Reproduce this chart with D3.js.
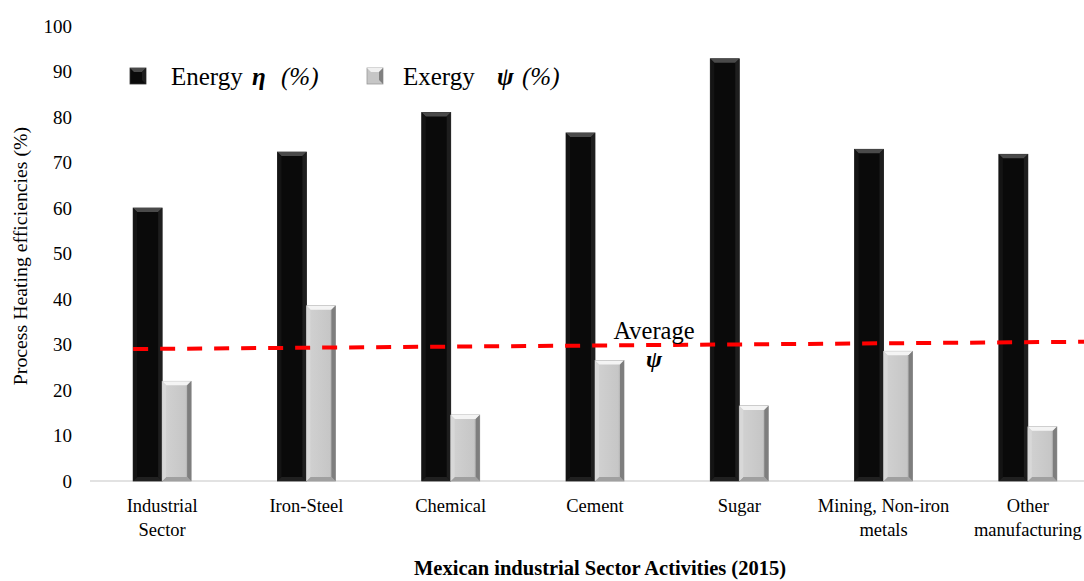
<!DOCTYPE html>
<html>
<head>
<meta charset="utf-8">
<script src="https://cdn.jsdelivr.net/npm/d3@7"></script>
<style>
  html, body { margin: 0; padding: 0; background: #fff; }
  svg { display: block; font-family: "Liberation Serif", "DejaVu Serif", serif; }
</style>
</head>
<body>
<svg id="chart" width="1084" height="581"></svg>
<script>
// Process heating efficiencies by Mexican industrial sector (2015)
const categories = [
  ["Industrial", "Sector"],
  ["Iron-Steel"],
  ["Chemical"],
  ["Cement"],
  ["Sugar"],
  ["Mining, Non-iron", "metals"],
  ["Other", "manufacturing"]
];
const energyEta = [60, 72.3, 81, 76.5, 92.8, 72.9, 71.8];
const exergyPsi = [21.9, 38.5, 14.5, 26.5, 16.5, 28.5, 11.9];
// dashed "Average ψ" reference line: value at its left and right ends
const averagePsi = [29.0, 30.6];
const yTicks = [0, 10, 20, 30, 40, 50, 60, 70, 80, 90, 100];

const svg = d3.select("#chart");
const margin = { left: 90, right: -16, top: 26, bottom: 100 };
const W = 1084, H = 581;

const x = d3.scaleBand()
  .domain(d3.range(categories.length))
  .range([margin.left, W - margin.right])
  .padding(0);
const y = d3.scaleLinear().domain([0, 100]).range([H - margin.bottom, margin.top]);
const barW = 29;

const defs = svg.append("defs");
const gBlack = defs.append("linearGradient").attr("id", "gBlack");
gBlack.append("stop").attr("offset", "0%").attr("stop-color", "#1a1a1a");
gBlack.append("stop").attr("offset", "15%").attr("stop-color", "#0a0a0a");
gBlack.append("stop").attr("offset", "85%").attr("stop-color", "#0a0a0a");
gBlack.append("stop").attr("offset", "100%").attr("stop-color", "#1c1c1c");
const gGrey = defs.append("linearGradient").attr("id", "gGrey");
gGrey.append("stop").attr("offset", "0%").attr("stop-color", "#d2d2d2");
gGrey.append("stop").attr("offset", "80%").attr("stop-color", "#c6c6c6");
gGrey.append("stop").attr("offset", "100%").attr("stop-color", "#8a8a8a");

// baseline
svg.append("line")
  .attr("x1", margin.left).attr("x2", W)
  .attr("y1", y(0)).attr("y2", y(0))
  .attr("stroke", "#d9d9d9").attr("stroke-width", 1.5);

// y axis tick labels
const yAxis = d3.axisLeft(y).tickValues(yTicks).tickSize(0).tickPadding(0);
const yg = svg.append("g").attr("transform", "translate(72,0)").call(yAxis);
yg.select(".domain").remove();
yg.selectAll("text")
  .attr("font-family", "Liberation Serif, serif")
  .attr("font-size", 19).attr("fill", "#000");

// bevelled bar drawing
function bevelBar(g, x0, v, dark) {
  const top = y(v), bot = y(0), w = barW, b = 4;
  g.append("rect").attr("x", x0).attr("y", top).attr("width", w).attr("height", bot - top)
    .attr("fill", dark ? "url(#gBlack)" : "url(#gGrey)")
    .attr("stroke", dark ? "#2a2a2a" : "#9a9a9a").attr("stroke-width", 0.8);
  // top bevel
  g.append("polygon")
    .attr("points", [[x0, top], [x0 + w, top], [x0 + w - b, top + b], [x0 + b, top + b]].join(" "))
    .attr("fill", dark ? "#4a4a4a" : "#f4f4f4");
  // right bevel
  g.append("polygon")
    .attr("points", [[x0 + w, top], [x0 + w, bot], [x0 + w - b, bot - b], [x0 + w - b, top + b]].join(" "))
    .attr("fill", dark ? "#1e1e1e" : "#7e7e7e");
  // bottom bevel
  g.append("polygon")
    .attr("points", [[x0, bot], [x0 + w, bot], [x0 + w - b, bot - b], [x0 + b, bot - b]].join(" "))
    .attr("fill", dark ? "#202020" : "#a0a0a0");
  // left bevel
  g.append("polygon")
    .attr("points", [[x0, top], [x0 + b, top + b], [x0 + b, bot - b], [x0, bot]].join(" "))
    .attr("fill", dark ? "#141414" : "#d8d8d8");
}

const bars = svg.append("g");
categories.forEach((c, i) => {
  const cx = x(i) + x.bandwidth() / 2;
  bevelBar(bars, cx - barW, energyEta[i], true);
  bevelBar(bars, cx, exergyPsi[i], false);
});

// category labels
const xl = svg.append("g");
categories.forEach((lines, i) => {
  const cx = x(i) + x.bandwidth() / 2;
  const t = xl.append("text").attr("x", cx).attr("y", 512)
    .attr("text-anchor", "middle").attr("font-size", 18.5);
  lines.forEach((ln, k) => t.append("tspan").attr("x", cx).attr("dy", k ? 24 : 0).text(ln));
});

// average ψ dashed line
const lineX0 = x(0) + x.bandwidth() / 2 - barW;
const lx = d3.scaleLinear().domain([0, 1]).range([lineX0, W]);
svg.append("path")
  .attr("d", d3.line()([[lx(0), y(averagePsi[0])], [lx(1), y(averagePsi[1])]]))
  .attr("stroke", "#ff0000").attr("stroke-width", 4)
  .attr("stroke-dasharray", "15,12").attr("fill", "none");
svg.append("text").attr("x", 654).attr("y", 339).attr("text-anchor", "middle")
  .attr("font-size", 24.5).text("Average");
svg.append("text").attr("x", 654).attr("y", 367).attr("text-anchor", "middle")
  .attr("font-size", 24).attr("font-style", "italic").attr("font-weight", "bold").text("ψ");

// axis titles
svg.append("text").attr("transform", "translate(27,256) rotate(-90)")
  .attr("text-anchor", "middle").attr("font-size", 19.8)
  .text("Process Heating efficiencies (%)");
svg.append("text").attr("x", 600).attr("y", 575).attr("text-anchor", "middle")
  .attr("font-size", 20.5).attr("font-weight", "bold")
  .text("Mexican industrial Sector Activities (2015)");

// legend
const leg = svg.append("g");
function legendSwatch(x0, dark) {
  const s = 16, b = 4, t = 68;
  leg.append("rect").attr("x", x0).attr("y", t).attr("width", s).attr("height", s)
    .attr("fill", dark ? "#0a0a0a" : "#c6c6c6").attr("stroke", dark ? "#333" : "#999").attr("stroke-width", 0.8);
  leg.append("polygon").attr("points", [[x0, t], [x0 + s, t], [x0 + s - b, t + b], [x0 + b, t + b]].join(" "))
    .attr("fill", dark ? "#4a4a4a" : "#f0f0f0");
  leg.append("polygon").attr("points", [[x0 + s, t], [x0 + s, t + s], [x0 + s - b, t + s - b], [x0 + s - b, t + b]].join(" "))
    .attr("fill", dark ? "#1e1e1e" : "#808080");
}
legendSwatch(130, true);
legendSwatch(367, false);
const l1 = leg.append("text").attr("x", 171).attr("y", 85).attr("font-size", 25);
l1.append("tspan").text("Energy");
l1.append("tspan").attr("x", 252).attr("font-style", "italic").attr("font-weight", "bold").text("η");
l1.append("tspan").attr("x", 281).attr("font-style", "italic").text("(%)");
const l2 = leg.append("text").attr("x", 403).attr("y", 85).attr("font-size", 25);
l2.append("tspan").text("Exergy");
l2.append("tspan").attr("x", 497).attr("font-style", "italic").attr("font-weight", "bold").text("ψ");
l2.append("tspan").attr("x", 522).attr("font-style", "italic").text("(%)");
</script>
</body>
</html>
